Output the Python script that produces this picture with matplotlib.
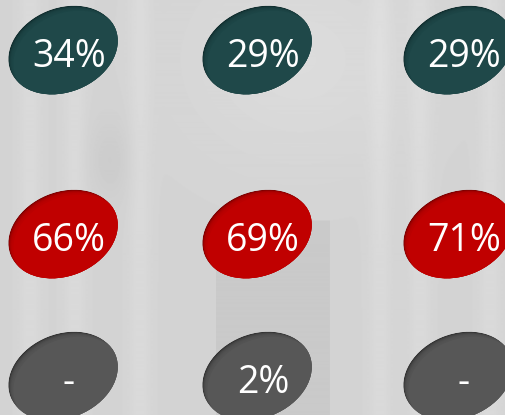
import numpy as np
import matplotlib
matplotlib.use("Agg")
import matplotlib.pyplot as plt
from matplotlib.patches import Ellipse

# Data
columns = ["A", "B", "C"]
row_names = ["row1", "row2", "row3"]
row1_values = [34, 29, 29]
row2_values = [66, 69, 71]
row3_values = [None, 2, None]
row_colors = ["#1f4849", "#c00000", "#575757"]
row_shades = ["#0e2829", "#700000", "#2c2c2c"]

W, H = 506, 415
fig = plt.figure(figsize=(W / 100, H / 100), dpi=100)
ax = fig.add_axes([0, 0, 1, 1])
ax.set_xlim(0, W)
ax.set_ylim(H, 0)
ax.axis("off")

# background (photo-like soft gray texture)
yy, xx = np.mgrid[0:H, 0:W]
bg = np.full((H, W), 0.83)
bg += 0.03 * np.exp(-((xx - 300) ** 2) / (2 * 80 ** 2)) * np.exp(-((yy - 60) ** 2) / (2 * 70 ** 2))
bg -= 0.04 * ((xx > 215) & (xx < 330) & (yy > 220)).astype(float)
for cx in [30, 75, 140, 380, 420, 490]:
    bg += 0.025 * np.exp(-((xx - cx) ** 2) / (2 * 8 ** 2))
bg -= 0.03 * np.exp(-((xx - 110) ** 2) / (2 * 15 ** 2)) * np.exp(-((yy - 160) ** 2) / (2 * 30 ** 2))
bg = np.clip(bg, 0, 1)
ax.imshow(bg, cmap="gray", vmin=0, vmax=1, extent=[0, W, H, 0], zorder=0, aspect="auto")

col_x = [63, 257, 458]
row_y = [50, 234, 376]
rows = [row1_values, row2_values, row3_values]

ew, eh, ang = 113, 84, -22
for r, vals in enumerate(rows):
    for c, v in enumerate(vals):
        cx, cy = col_x[c], row_y[r]
        clip = Ellipse((cx, cy), ew, eh, angle=ang, facecolor="none", edgecolor="none")
        ax.add_patch(clip)
        base = Ellipse((cx, cy), ew, eh, angle=ang, facecolor=row_shades[r], edgecolor="none", zorder=2)
        ax.add_patch(base)
        base.set_clip_path(clip)
        for k in range(10):
            d = 0.4 * (k + 1)
            e = Ellipse((cx + d, cy + d), ew, eh, angle=ang, facecolor=row_colors[r],
                        edgecolor="none", alpha=0.25, zorder=3)
            ax.add_patch(e)
            e.set_clip_path(clip)
        top = Ellipse((cx + 5, cy + 5), ew, eh, angle=ang, facecolor=row_colors[r],
                      edgecolor="none", zorder=4)
        ax.add_patch(top)
        top.set_clip_path(clip)
        label = "-" if v is None else f"{v}%"
        ax.text(cx + 6, cy + 7, label, color="white", fontsize=27, family="Open Sans",
                ha="center", va="center", zorder=5)

fig.savefig("out.png", dpi=100)
